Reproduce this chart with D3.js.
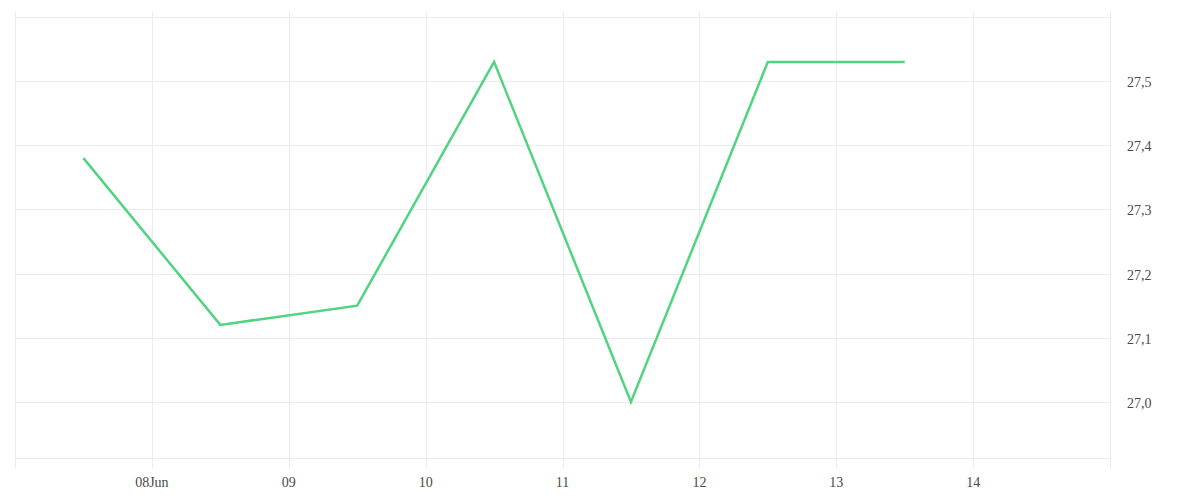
<!DOCTYPE html>
<html>
<head>
<meta charset="utf-8">
<script src="https://cdn.jsdelivr.net/npm/d3@7"></script>
<style>
  body { margin: 0; background: #fff; }
  svg { display: block; }
</style>
</head>
<body>
<svg id="chart"></svg>
<script>
// values
const dates = ["2023-06-07T12:00", "2023-06-08T12:00", "2023-06-09T12:00", "2023-06-10T12:00",
               "2023-06-11T12:00", "2023-06-12T12:00", "2023-06-13T12:00"];
const prices = [27.38, 27.12, 27.15, 27.53, 27.00, 27.53, 27.53];
const xTicks = ["2023-06-08", "2023-06-09", "2023-06-10", "2023-06-11", "2023-06-12", "2023-06-13", "2023-06-14"];
const yTicks = [27.0, 27.1, 27.2, 27.3, 27.4, 27.5, 27.6];
const yLabels = ["27,0", "27,1", "27,2", "27,3", "27,4", "27,5", ""];

const width = 1200, height = 500;
const plotLeft = 15, plotRight = 1110, plotTop = 17, plotBottom = 458;
const parse = d3.timeParse("%Y-%m-%dT%H:%M");
const parseDay = d3.timeParse("%Y-%m-%d");

const x = d3.scaleTime()
    .domain([parseDay("2023-06-07"), parseDay("2023-06-15")])
    .range([plotLeft, plotRight]);
const y = d3.scaleLinear()
    .domain([26.9125, 27.6])
    .range([plotBottom, plotTop]);

const svg = d3.select("#chart")
    .attr("width", width)
    .attr("height", height)
    .style("font-family", "'Liberation Serif', 'Times New Roman', serif");

const grid = "#ececec";

// horizontal gridlines
svg.append("g")
    .selectAll("line")
    .data(yTicks)
    .join("line")
    .attr("x1", plotLeft).attr("x2", plotRight)
    .attr("y1", d => Math.round(y(d)) + 0.5)
    .attr("y2", d => Math.round(y(d)) + 0.5)
    .attr("stroke", grid);

// bottom border
svg.append("line")
    .attr("x1", plotLeft).attr("x2", plotRight)
    .attr("y1", plotBottom + 0.5).attr("y2", plotBottom + 0.5)
    .attr("stroke", grid);

// vertical gridlines incl. borders, run past the plot as ticks
const vDays = [parseDay("2023-06-07")].concat(xTicks.map(parseDay), [parseDay("2023-06-15")]);
svg.append("g")
    .selectAll("line")
    .data(vDays)
    .join("line")
    .attr("x1", d => Math.round(x(d)) + 0.5)
    .attr("x2", d => Math.round(x(d)) + 0.5)
    .attr("y1", plotTop - 5).attr("y2", plotBottom + 10)
    .attr("stroke", grid);

// x labels
svg.append("g")
    .attr("font-size", 14)
    .attr("fill", "#4a4a4a")
    .attr("text-anchor", "middle")
    .selectAll("text")
    .data(xTicks)
    .join("text")
    .attr("x", d => x(parseDay(d)))
    .attr("y", 487)
    .text((d, i) => i === 0 ? d3.timeFormat("%d%b")(parseDay(d)) : d3.timeFormat("%d")(parseDay(d)));

// y labels
svg.append("g")
    .attr("font-size", 14)
    .attr("fill", "#4a4a4a")
    .selectAll("text")
    .data(yTicks)
    .join("text")
    .attr("x", 1127)
    .attr("y", d => y(d) + 6)
    .text((d, i) => yLabels[i]);

// price line
const line = d3.line()
    .x((d, i) => x(parse(dates[i])))
    .y(d => y(d));

svg.append("path")
    .datum(prices)
    .attr("d", line)
    .attr("fill", "none")
    .attr("stroke", "#4fd47f")
    .attr("stroke-width", 2.5)
    .attr("stroke-linejoin", "miter");
</script>
</body>
</html>
